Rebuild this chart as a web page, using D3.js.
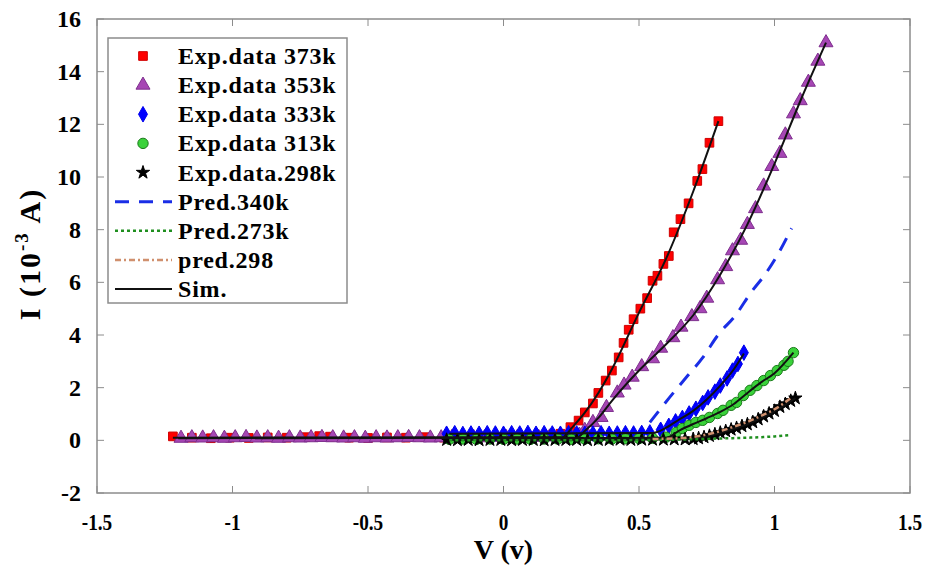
<!DOCTYPE html>
<html>
<head>
<meta charset="utf-8">
<script src="https://cdn.jsdelivr.net/npm/d3@7"></script>
<style>
  body { margin: 0; background: #fff; }
  text { font-family: "Liberation Serif", "Times New Roman", serif; font-weight: bold; }
</style>
</head>
<body>
<script>
// ---- data ----
var xTicks = [-1.5, -1, -0.5, 0, 0.5, 1, 1.5];
var yTicks = [-2, 0, 2, 4, 6, 8, 10, 12, 14, 16];

// Exp.data 373k
var v373 = [-1.22,-1.15,-1.08,-1.01,-0.94,-0.87,-0.80,-0.73,-0.68,-0.64,-0.57,-0.50,-0.43,-0.36,-0.29,-0.22,-0.15,-0.08,-0.01,0.06,0.12,0.17,0.21,
  0.247,0.277,0.30,0.33,0.35,0.377,0.40,0.425,0.443,0.462,0.48,0.505,0.53,0.55,0.568,0.59,0.61,0.628,0.653,0.683,0.715,0.734,0.76,0.793];
var i373 = [0.15,0.1,0.08,0.1,0.09,0.11,0.1,0.12,0.16,0.14,0.1,0.09,0.11,0.1,0.12,0.1,0.11,0.13,0.12,0.14,0.15,0.18,0.25,
  0.5,0.75,1.06,1.4,1.8,2.27,2.65,3.15,3.7,4.2,4.6,5.0,5.4,6.06,6.25,6.7,7.0,7.9,8.4,9.0,9.85,10.3,11.3,12.12];

// Exp.data 353k
var v353 = [-1.19,-1.15,-1.11,-1.07,-1.03,-0.99,-0.95,-0.91,-0.87,-0.83,-0.79,-0.75,-0.71,-0.67,-0.63,-0.59,-0.55,-0.51,-0.47,-0.43,-0.39,-0.35,-0.31,-0.27,-0.23,-0.19,-0.15,-0.11,-0.07,-0.03,0.01,0.05,0.09,0.13,0.17,0.21,0.25,0.28,
  0.30,0.33,0.36,0.38,0.42,0.445,0.475,0.51,0.55,0.58,0.625,0.655,0.695,0.725,0.75,0.79,0.82,0.845,0.875,0.9,0.93,0.96,0.99,1.02,1.04,1.07,1.095,1.125,1.16,1.19];
var i353 = [0.08,0.1,0.09,0.1,0.08,0.1,0.11,0.09,0.1,0.08,0.1,0.09,0.1,0.11,0.1,0.09,0.1,0.08,0.1,0.09,0.1,0.11,0.1,0.09,0.1,0.12,0.1,0.11,0.1,0.12,0.11,0.1,0.12,0.11,0.13,0.12,0.15,0.2,
  0.38,0.68,0.87,1.25,1.8,2.1,2.4,2.8,3.1,3.5,3.9,4.3,4.7,5.0,5.4,6.1,6.6,7.2,7.6,8.2,8.8,9.66,10.4,10.9,11.6,12.4,12.9,13.6,14.4,15.1];

// Exp.data 333k
var v333 = [-0.21,-0.18,-0.15,-0.12,-0.09,-0.06,-0.03,0.0,0.03,0.06,0.09,0.12,0.15,0.18,0.21,0.24,0.27,0.30,0.33,0.36,0.39,0.42,0.45,0.48,0.51,0.54,
  0.58,0.61,0.635,0.66,0.685,0.71,0.735,0.755,0.78,0.80,0.825,0.845,0.865,0.887];
var i333 = [0.25,0.27,0.24,0.26,0.25,0.27,0.26,0.25,0.27,0.26,0.28,0.25,0.27,0.26,0.25,0.27,0.26,0.25,0.26,0.27,0.25,0.26,0.27,0.26,0.28,0.3,
  0.4,0.55,0.72,0.85,1.02,1.2,1.42,1.63,1.85,2.08,2.35,2.65,2.9,3.33];

// Exp.data 313k
var v313 = [-0.2,-0.15,-0.1,-0.05,0.0,0.05,0.1,0.15,0.2,0.25,0.3,0.35,0.4,0.45,0.5,0.55,0.6,
  0.637,0.66,0.685,0.71,0.735,0.76,0.79,0.81,0.84,0.86,0.885,0.91,0.935,0.96,0.985,1.01,1.035,1.05,1.07];
var i313 = [0.04,0.05,0.04,0.05,0.04,0.05,0.04,0.05,0.05,0.04,0.05,0.06,0.05,0.06,0.07,0.08,0.12,
  0.3,0.45,0.57,0.68,0.76,0.87,1.02,1.14,1.33,1.44,1.7,1.9,2.08,2.27,2.46,2.65,2.85,3.0,3.33];

// Exp.data.298k
var v298 = [-0.21,-0.17,-0.13,-0.09,-0.05,-0.01,0.03,0.07,0.11,0.15,0.19,0.23,0.27,0.31,0.35,0.39,0.43,0.47,0.51,0.55,0.59,0.63,0.67,
  0.70,0.72,0.74,0.76,0.78,0.80,0.82,0.84,0.86,0.88,0.90,0.92,0.94,0.96,0.98,1.0,1.02,1.04,1.06,1.077];
var i298 = [0.02,0.01,0.02,0.01,0.02,0.02,0.01,0.02,0.02,0.01,0.02,0.02,0.02,0.01,0.02,0.02,0.03,0.02,0.03,0.03,0.03,0.04,0.04,
  0.05,0.08,0.12,0.17,0.23,0.29,0.35,0.41,0.47,0.54,0.61,0.69,0.8,0.91,1.02,1.12,1.27,1.38,1.5,1.6];

// Pred.340k
var vPred340 = [0.54,0.613,0.68,0.735,0.79,0.86,0.91,0.97,1.02,1.063];
var iPred340 = [0.68,1.63,2.46,3.14,3.98,4.8,5.57,6.37,7.2,8.05];
// Pred.273k
var vPred273 = [-0.2,0.3,0.5,0.6,0.7,0.8,0.9,1.0,1.06];
var iPred273 = [0.0,0.0,0.01,0.02,0.04,0.07,0.1,0.15,0.2];
// pred.298
var vPred298 = [0.55,0.65,0.7,0.75,0.8,0.85,0.9,0.95,1.0,1.06];
var iPred298 = [0.05,0.08,0.13,0.22,0.35,0.52,0.7,0.93,1.18,1.6];

// Sim.
var vSim373 = [-1.22,0.22,0.25,0.3,0.35,0.4,0.5,0.6,0.7,0.793];
var iSim373 = [0.1,0.12,0.45,1.05,1.8,2.7,4.85,6.9,9.45,12.12];
var vSim353 = [-1.2,0.27,0.3,0.35,0.4,0.5,0.6,0.7,0.8,0.9,1.0,1.1,1.19];
var iSim353 = [0.08,0.1,0.35,0.85,1.5,2.65,3.65,4.75,6.3,8.2,10.5,13.0,15.1];
var vSim333 = [-0.2,0.55,0.6,0.65,0.7,0.75,0.8,0.85,0.887];
var iSim333 = [0.25,0.28,0.48,0.8,1.12,1.55,2.08,2.7,3.3];
var vSim313 = [-0.2,0.6,0.65,0.7,0.75,0.8,0.85,0.9,0.95,1.0,1.07];
var iSim313 = [0.04,0.1,0.38,0.62,0.84,1.08,1.38,1.8,2.2,2.55,3.33];
var vSim298 = [-0.2,0.65,0.7,0.75,0.8,0.85,0.9,0.95,1.0,1.077];
var iSim298 = [0.02,0.03,0.06,0.15,0.28,0.44,0.61,0.84,1.1,1.6];

var legendLabels = ["Exp.data 373k","Exp.data 353k","Exp.data 333k","Exp.data 313k","Exp.data.298k","Pred.340k","Pred.273k","pred.298","Sim."];

function zip(vs, is) { return vs.map(function (v, k) { return [v, is[k]]; }); }

var W = 935, H = 567;
var mLeft = 97, mRight = 910, mTop = 19, mBottom = 493;

var svg = d3.select("body").append("svg")
  .attr("width", W)
  .attr("height", H);

var x = d3.scaleLinear().domain([-1.5, 1.5]).range([mLeft, mRight]);
var y = d3.scaleLinear().domain([-2, 16]).range([mBottom, mTop]);

var smooth = d3.line().curve(d3.curveMonotoneX).x(function (d) { return x(d[0]); }).y(function (d) { return y(d[1]); });

// frame + ticks
var axisCol = "#8c8c8c";
svg.append("rect")
  .attr("x", mLeft).attr("y", mTop)
  .attr("width", mRight - mLeft).attr("height", mBottom - mTop)
  .attr("fill", "white")
  .attr("stroke", axisCol)
  .attr("stroke-width", 1.5);

var tk = 7;
xTicks.forEach(function (t) {
  svg.append("line").attr("x1", x(t)).attr("x2", x(t)).attr("y1", mBottom).attr("y2", mBottom - tk).attr("stroke", axisCol);
  svg.append("line").attr("x1", x(t)).attr("x2", x(t)).attr("y1", mTop).attr("y2", mTop + tk).attr("stroke", axisCol);
  svg.append("text")
    .attr("transform", "translate(" + x(t) + "," + (mBottom + 37) + ") scale(0.8,1)")
    .attr("text-anchor", "middle")
    .attr("font-size", "24px")
    .text(t);
});
yTicks.forEach(function (t) {
  svg.append("line").attr("x1", mLeft).attr("x2", mLeft + tk).attr("y1", y(t)).attr("y2", y(t)).attr("stroke", axisCol);
  svg.append("line").attr("x1", mRight).attr("x2", mRight - tk).attr("y1", y(t)).attr("y2", y(t)).attr("stroke", axisCol);
  svg.append("text")
    .attr("x", mLeft - 16).attr("y", y(t) + 8)
    .attr("text-anchor", "end")
    .attr("font-size", "24px")
    .text(t);
});

// axis titles
svg.append("text")
  .attr("x", (mLeft + mRight) / 2).attr("y", 559)
  .attr("text-anchor", "middle")
  .attr("font-size", "28px")
  .text("V (v)");

var yl = svg.append("text")
  .attr("transform", "translate(40," + 254 + ") rotate(-90)")
  .attr("text-anchor", "middle")
  .attr("font-size", "30px")
  .attr("letter-spacing", "2px");
yl.append("tspan").text("I (10");
yl.append("tspan").attr("dy", -12).attr("font-size", "19px").text("-3");
yl.append("tspan").attr("dy", 12).text(" A)");

// markers
var plot = svg.append("g");
var styles = [
  { data: zip(v373, i373), type: d3.symbolSquare, size: 75, fill: "#ff0000", stroke: "#d00000" },
  { data: zip(v353, i353), type: d3.symbolTriangle, size: 85, fill: "#a646b4", stroke: "#7e2f8e" },
  { data: zip(v333, i333), type: d3.symbolDiamond, size: 70, fill: "#0000ff", stroke: "#0000ee" },
  { data: zip(v313, i313), type: d3.symbolCircle, size: 85, fill: "#3ad23a", stroke: "#1a7a1a" },
  { data: zip(v298, i298), type: d3.symbolStar, size: 55, fill: "#000000", stroke: "#000000" }
];
styles.forEach(function (s) {
  plot.selectAll(null).data(s.data).enter().append("path")
    .attr("d", d3.symbol().type(s.type).size(s.size))
    .attr("transform", function (d) { return "translate(" + x(d[0]) + "," + y(d[1]) + ")"; })
    .attr("fill", s.fill)
    .attr("stroke", s.stroke)
    .attr("stroke-width", 1);
});

var predStyles = [
  { c: "#1a2ee6", w: 3, da: "14,10" },
  { c: "#1f8f1f", w: 2.5, da: "3,3" },
  { c: "#d0906e", w: 2.5, da: "6,3,2,3" },
  { c: "#111", w: 2, da: null }
];

// sim lines
[[vSim373, iSim373], [vSim353, iSim353], [vSim333, iSim333], [vSim313, iSim313], [vSim298, iSim298]].forEach(function (p) {
  plot.append("path").attr("d", smooth(zip(p[0], p[1])))
    .attr("fill", "none").attr("stroke", "#111").attr("stroke-width", 2);
});

// prediction lines
[[vPred340, iPred340], [vPred273, iPred273], [vPred298, iPred298]].forEach(function (p, k) {
  plot.append("path").attr("d", smooth(zip(p[0], p[1])))
    .attr("fill", "none")
    .attr("stroke", predStyles[k].c)
    .attr("stroke-width", predStyles[k].w)
    .attr("stroke-dasharray", predStyles[k].da);
});

// legend
var lg = svg.append("g");
lg.append("rect")
  .attr("x", 108).attr("y", 38).attr("width", 239).attr("height", 265)
  .attr("fill", "white").attr("stroke", axisCol).attr("stroke-width", 1.5);
var rowY = d3.scalePoint().domain(legendLabels).range([56, 289]);
legendLabels.forEach(function (lab, k) {
  var yy = rowY(lab);
  if (k < 5) {
    var s = styles[k];
    lg.append("path")
      .attr("d", d3.symbol().type(s.type).size(s.size))
      .attr("transform", "translate(143," + yy + ")")
      .attr("fill", s.fill).attr("stroke", s.stroke);
  } else {
    var st = predStyles[k - 5];
    lg.append("line")
      .attr("x1", 115).attr("x2", 172).attr("y1", yy).attr("y2", yy)
      .attr("stroke", st.c).attr("stroke-width", st.w)
      .attr("stroke-dasharray", st.da);
  }
  lg.append("text")
    .attr("x", 178).attr("y", yy + 8)
    .attr("font-size", "24px")
    .attr("letter-spacing", "0.8px")
    .text(lab);
});
</script>
</body>
</html>
